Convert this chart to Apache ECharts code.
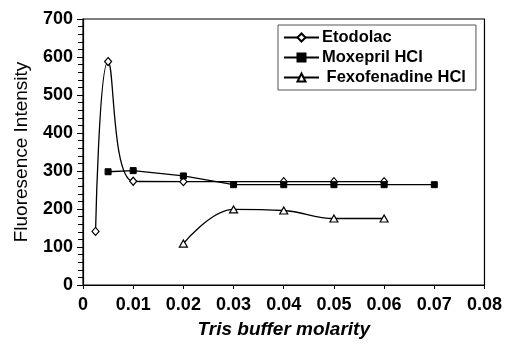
<!DOCTYPE html>
<html><head><meta charset="utf-8">
<script src="https://cdn.jsdelivr.net/npm/echarts@6/dist/echarts.min.js"></script>
<style>html,body{margin:0;padding:0;background:#fff}#c{width:505px;height:344px}</style>
</head><body><div id="c"></div>
<script>
const etodolacX = [0.0025, 0.005, 0.01, 0.02, 0.04, 0.05, 0.06];
const etodolacY = [141, 588, 273, 272, 272, 272, 272];
const moxeprilX = [0.005, 0.01, 0.02, 0.03, 0.04, 0.05, 0.06, 0.07];
const moxeprilY = [298, 301, 287, 264, 264, 264, 264, 264];
const fexoX = [0.02, 0.03, 0.04, 0.05, 0.06];
const fexoY = [109, 199, 196, 175, 175];
const xTicks = [0, 0.01, 0.02, 0.03, 0.04, 0.05, 0.06, 0.07, 0.08];
const yTicks = [0, 100, 200, 300, 400, 500, 600, 700];
const seriesNames = ['Etodolac', 'Moxepril HCl', ' Fexofenadine HCl'];

const pair = (xs, ys) => xs.map((x, i) => [x, ys[i]]);
const F = 'Liberation Sans, Arial, sans-serif';
const chart = echarts.init(document.getElementById('c'));
const lineStyle = {color: '#000', width: 1.3};
chart.setOption({
  animation: false,
  textStyle: {fontFamily: F},
  grid: {left: 83, right: 20, top: 19, bottom: 56, show: true, borderColor: '#000', borderWidth: 1.2},
  legend: {
    left: 278, top: 25, orient: 'vertical', itemGap: 3, itemWidth: 35, itemHeight: 10,
    padding: [4, 10, 4, 5],
    borderColor: '#555', borderWidth: 1, backgroundColor: '#fff',
    textStyle: {fontFamily: F, fontSize: 16.5, fontWeight: 'bold', color: '#000', padding: [0,0,0,-2]},
    data: seriesNames
  },
  xAxis: {
    type: 'value', min: 0, max: 0.08, interval: 0.01,
    axisLine: {onZero: false, lineStyle: {color: '#000', width: 1.2}},
    axisTick: {show: true, length: 4, lineStyle: {color: '#000'}},
    splitLine: {show: false},
    axisLabel: {color: '#000', fontSize: 18, fontWeight: 'bold', margin: 11,
      formatter: v => { const t = xTicks.find(t => Math.abs(t - v) < 1e-9); return t === undefined ? '' : String(t); }},
    name: 'Tris buffer molarity', nameLocation: 'middle', nameGap: 35,
    nameTextStyle: {color: '#000', fontSize: 19, fontWeight: 'bold', fontStyle: 'italic'}
  },
  yAxis: {
    type: 'value', min: 0, max: 700, interval: 100,
    axisLine: {show: true, lineStyle: {color: '#000', width: 1.2}},
    axisTick: {show: true, length: 6, lineStyle: {color: '#000'}},
    minorTick: {show: true, splitNumber: 5, length: 5, lineStyle: {color: '#000'}},
    splitLine: {show: false},
    axisLabel: {color: '#000', fontSize: 18, fontWeight: 'bold', margin: 10,
      formatter: v => yTicks.includes(v) ? String(v) : ''},
    name: 'Fluoresence Intensity', nameLocation: 'middle', nameGap: 52,
    nameTextStyle: {color: '#000', fontSize: 19}
  },
  series: [
    {name: seriesNames[0], type: 'line', data: pair(etodolacX, etodolacY), smooth: 0.4,
     symbol: 'diamond', symbolSize: [7, 8], lineStyle: lineStyle,
     itemStyle: {color: '#fff', borderColor: '#000', borderWidth: 1.2}},
    {name: seriesNames[1], type: 'line', data: pair(moxeprilX, moxeprilY), smooth: false,
     symbol: 'rect', symbolSize: 6, lineStyle: lineStyle,
     itemStyle: {color: '#000', borderColor: '#000', borderWidth: 1}},
    {name: seriesNames[2], type: 'line', data: pair(fexoX, fexoY), smooth: 0.4,
     symbol: 'triangle', symbolSize: [8, 7], lineStyle: lineStyle,
     itemStyle: {color: '#fff', borderColor: '#000', borderWidth: 1.2}}
  ]
});
</script></body></html>
